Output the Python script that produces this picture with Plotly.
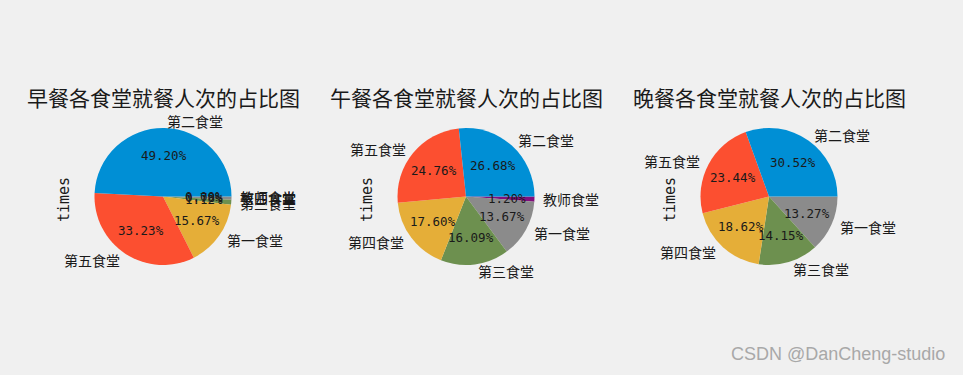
import math
import plotly.graph_objects as go

W, H = 963, 375

# ---- data ----
breakfast_labels = ['第二食堂', '第五食堂', '第一食堂', '第三食堂', '第四食堂', '教师食堂']
breakfast_values = [49.20, 33.23, 15.67, 1.12, 0.78, 0.004]

lunch_labels = ['第二食堂', '第五食堂', '第四食堂', '第三食堂', '第一食堂', '教师食堂']
lunch_values = [26.68, 24.76, 17.60, 16.09, 13.67, 1.20]

dinner_labels = ['第二食堂', '第五食堂', '第四食堂', '第三食堂', '第一食堂']
dinner_values = [30.52, 23.44, 18.62, 14.15, 13.27]

titles = ['早餐各食堂就餐人次的占比图', '午餐各食堂就餐人次的占比图', '晚餐各食堂就餐人次的占比图']

# ---- style ----
colors = ['#008fd5', '#fc4f30', '#e5ae38', '#6d904f', '#8b8b8b', '#810f7c']
BG = '#f0f0f0'
CJK = 'Noto Sans CJK SC'
MONO = 'DejaVu Sans Mono'
centers = [(163, 196.5), (466, 196.5), (769, 196.5)]
R = 68.5

fig = go.Figure()
annotations = []

datasets = [(breakfast_labels, breakfast_values),
            (lunch_labels, lunch_values),
            (dinner_labels, dinner_values)]

for k, (labels, values) in enumerate(datasets):
    cx, cy = centers[k]
    n = len(values)
    # matplotlib draws counter-clockwise from 3 o'clock; equivalently draw
    # the reversed sequence clockwise from 3 o'clock.
    fig.add_trace(go.Pie(
        labels=labels[::-1], values=values[::-1], sort=False,
        direction='clockwise', rotation=90,
        marker=dict(colors=colors[:n][::-1], line=dict(width=0)),
        textinfo='none', hoverinfo='label+percent', showlegend=False,
        domain=dict(x=[(cx - R) / W, (cx + R) / W],
                    y=[1 - (cy + R) / H, 1 - (cy - R) / H]),
    ))
    total = sum(values)
    cum = 0.0
    for lab, v in zip(labels, values):
        frac = v / total
        theta = 2 * math.pi * (cum + frac / 2)
        cum += frac
        c, s = math.cos(theta), math.sin(theta)
        # outside label at 1.1 r
        lx, ly = cx + 1.1 * R * c, cy - 1.1 * R * s
        annotations.append(dict(
            x=lx / W, y=1 - ly / H, xref='paper', yref='paper',
            text=lab, showarrow=False,
            xanchor='left' if c > 0 else 'right', yanchor='middle',
            font=dict(family=CJK, size=14, color='#1a1a1a'),
        ))
        # percent at 0.6 r
        px, py = cx + 0.6 * R * c, cy - 0.6 * R * s
        annotations.append(dict(
            x=px / W, y=1 - py / H, xref='paper', yref='paper',
            text='%.2f%%' % (frac * 100), showarrow=False,
            xanchor='center', yanchor='middle',
            font=dict(family=MONO, size=12.5, color='#1a1a1a'),
        ))
    # title
    annotations.append(dict(
        x=cx / W, y=1 - 97 / H, xref='paper', yref='paper',
        text=titles[k], showarrow=False, xanchor='center', yanchor='middle',
        font=dict(family=CJK, size=21, color='#1a1a1a'),
    ))
    # ylabel
    annotations.append(dict(
        x=(cx - 99) / W, y=1 - 200 / H, xref='paper', yref='paper',
        text='times', showarrow=False, textangle=-90,
        xanchor='center', yanchor='middle',
        font=dict(family=MONO, size=15, color='#1a1a1a'),
    ))

annotations.append(dict(
    x=838 / W, y=1 - 354 / H, xref='paper', yref='paper',
    text='CSDN @DanCheng-studio', showarrow=False,
    xanchor='center', yanchor='middle',
    font=dict(family='Liberation Sans, Arial', size=18, color='#a8a8a8'),
))

fig.update_layout(
    width=W, height=H,
    margin=dict(l=0, r=0, t=0, b=0),
    paper_bgcolor=BG, plot_bgcolor=BG,
    annotations=annotations,
)

fig.write_html('out.html')
